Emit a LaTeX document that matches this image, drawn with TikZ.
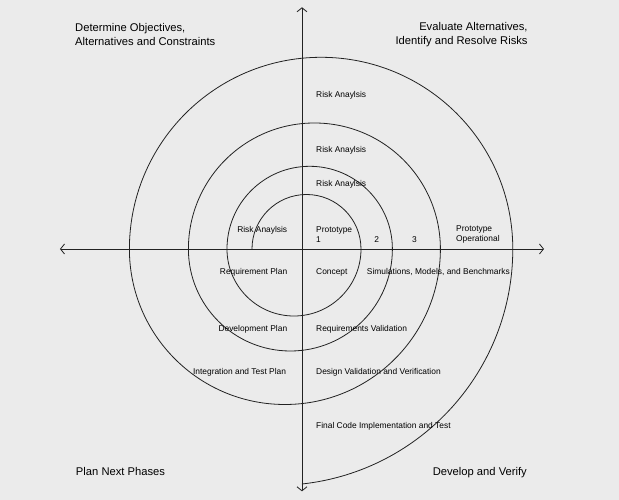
\documentclass[tikz,border=0pt]{standalone}
\usepackage{fontspec}
\setmainfont{Liberation Sans}
\usetikzlibrary{arrows.meta}
\definecolor{bggray}{HTML}{EBEBEB}
\definecolor{ink}{HTML}{222222}
\tikzset{
	quad/.style={inner sep=0pt, font=\fontsize{11.2}{14}\selectfont},
	lbl/.style={inner sep=0pt, font=\fontsize{8.4}{10}\selectfont},
	axis/.style={draw=ink, line width=.8pt, {Straight Barb[length=4pt,width=10pt]}-{Straight Barb[length=4pt,width=10pt]}}
}
\begin{document}
\begin{tikzpicture}[x=10pt,y=10pt]
		\fill [bggray] (-30.2,-25.1) rectangle (31.7,24.9);
		\useasboundingbox (-30.2,-25.1) rectangle (31.7,24.9);
		
		\coordinate (top) at (0,24.17); \coordinate (bot) at (0,-24.23);
		\coordinate (lft) at (-24.2,0); \coordinate (rgt) at (24.2,0);
		\draw [axis] (lft) -- (rgt);
		\draw [axis] (bot) -- (top);
		
		% spiral of half circles
		\draw [ink, line width=.8pt] (-5,0) arc [start angle=180, end angle=0, radius=5.45]
			arc [start angle=0, end angle=-180, radius=6.7]
			arc [start angle=180, end angle=0, radius=8.27]
			arc [start angle=0, end angle=-180, radius=10.2]
			arc [start angle=180, end angle=0, radius=12.6]
			arc [start angle=0, end angle=-180, radius=15.55]
			arc [start angle=180, end angle=0, radius=19.17]
			arc [start angle=0, end angle=-83.8, radius=23.64];
		
		\node [quad, anchor=west, align=left] (obj) at (-22.7,21.47) {Determine Objectives,\\Alternatives and Constraints};
		\node [quad, anchor=east, align=right] (risks) at (22.58,21.47) {Evaluate Alternatives,\\Identify and Resolve Risks};
		\node [quad, anchor=base west] (plan) at (-22.62,-22.7) {Plan Next Phases};
		\node [quad, anchor=base east] (dev) at (22.5,-22.7) {Develop and Verify};
		
		\node [lbl, anchor=west] (ra4) at (1.4,15.4) {Risk Anaylsis};
		\node [lbl, anchor=west] (ra3) at (1.4,9.85) {Risk Anaylsis};
		\node [lbl, anchor=west] (ra2) at (1.4,6.45) {Risk Anaylsis};
		\node [lbl, anchor=east] (ra1) at (-1.46,1.88) {Risk Anaylsis};
		\node [lbl, anchor=west, align=left] (proto1) at (1.4,1.43) {Prototype\\1};
		\node [lbl] (proto2) at (7.46,0.93) {2};
		\node [lbl] (proto3) at (11.25,0.93) {3};
		\node [lbl, anchor=west, align=left] (protoop) at (15.4,1.43) {Prototype\\Operational};
		
		\node [lbl, anchor=east] (reqplan) at (-1.46,-2.33) {Requirement Plan};
		\node [lbl, anchor=west] (concept) at (1.4,-2.33) {Concept};
		\node [lbl, anchor=west] (sim) at (6.48,-2.33) {Simulations, Models, and Benchmarks};
		\node [lbl, anchor=east] (devplan) at (-1.46,-8.03) {Development Plan};
		\node [lbl, anchor=west] (reqval) at (1.4,-8.03) {Requirements Validation};
		\node [lbl, anchor=east] (itplan) at (-1.58,-12.3) {Integration and Test Plan};
		\node [lbl, anchor=west] (desval) at (1.4,-12.3) {Design Validation and Verification};
		\node [lbl, anchor=west] (code) at (1.4,-17.7) {Final Code Implementation and Test};
\end{tikzpicture}
\end{document}
